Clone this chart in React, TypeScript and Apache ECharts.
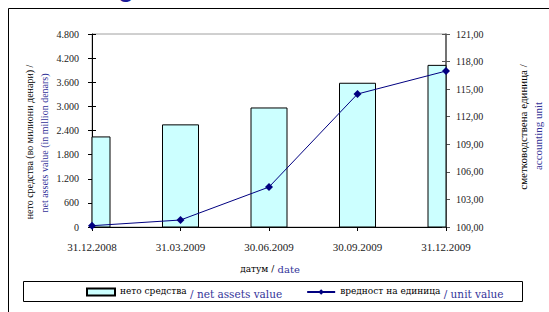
import React, { useEffect, useRef } from "react";
import * as echarts from "echarts";

const categories = ["31.12.2008", "31.03.2009", "30.06.2009", "30.09.2009", "31.12.2009"];
const netAssets = [2240, 2540, 2960, 3575, 4020];
const unitValue = [100.14, 100.76, 104.35, 114.47, 116.97];

const leftMin = 0;
const leftMax = 4800;
const leftInterval = 600;
const rightMin = 100;
const rightMax = 121;
const rightInterval = 3;

const seriesNames = ["нето средства", "вредност на единица"];
const seriesNamesEn = ["/ net assets value", "/ unit value"];
const leftNameMk = "нето средства (во милиони денари) /";
const leftNameEn = "net assets value (in million denars)";
const rightNameMk = "сметководствена единица /";
const rightNameEn = "accounting unit";
const xNameMk = "датум /";
const xNameEn = "date";

const SERIF = "'Liberation Serif', serif";
const SERIF2 = "'DejaVu Serif', serif";
const BLUE = "#333399";
const NAVY = "#000080";
const BAR_FILL = "#ccffff";

function fmtLeft(v: number): string {
  if (v >= 1000) {
    return `${Math.floor(v / 1000)}.${String(v % 1000).padStart(3, "0")}`;
  }
  return String(v);
}
function fmtRight(v: number): string {
  return v.toFixed(2).replace(".", ",");
}

export default function App() {
  const ref = useRef<HTMLDivElement>(null);
  useEffect(() => {
    if (!ref.current) return;
    const chart = echarts.init(ref.current, null, { renderer: "svg" });
    const yBase = (min: number, max: number, interval: number) => ({
      type: "value" as const,
      min,
      max,
      interval,
      splitLine: { show: false },
    });
    const barData = netAssets.map((v, i) => [i, v]);
    chart.setOption({
      animation: false,
      backgroundColor: "#ffffff",
      grid: {
        left: 92,
        right: 103,
        top: 34,
        bottom: 85,
        show: true,
        borderColor: "#a0a0a0",
        borderWidth: 1,
        backgroundColor: "transparent",
      },
      legend: {
        left: 86,
        top: 285,
        padding: 0,
        itemWidth: 28,
        itemGap: 24,
        itemHeight: 7,
        data: [
          { name: seriesNames[0], icon: "rect" },
          { name: seriesNames[1] },
        ],
        formatter: (name: string) => {
          const i = seriesNames.indexOf(name);
          return `{a|${name}} {b|${seriesNamesEn[i]}}`;
        },
        textStyle: {
          rich: {
            a: { fontFamily: SERIF2, fontSize: 9, color: "#000", verticalAlign: "top", lineHeight: 12 },
            b: { fontFamily: SERIF2, fontSize: 10.5, color: BLUE, padding: [3, 0, 0, 0], lineHeight: 12 },
          },
        },
      },
      xAxis: {
        type: "category",
        data: categories,
        boundaryGap: false,
        axisLine: { lineStyle: { color: "#000", width: 1 } },
        axisTick: { show: true, length: 4, lineStyle: { color: "#000" } },
        axisLabel: { fontFamily: SERIF, fontSize: 11, color: "#222", margin: 14 },
      },
      yAxis: [
        {
          ...yBase(leftMin, leftMax, leftInterval),
          position: "left",
          axisLine: { show: true, lineStyle: { color: "#000", width: 1 } },
          axisTick: { show: true, length: 4, lineStyle: { color: "#000" } },
          axisLabel: {
            fontFamily: SERIF,
            fontSize: 10,
            color: "#222",
            margin: 13,
            formatter: (v: number) => fmtLeft(v),
          },
        },
        {
          ...yBase(rightMin, rightMax, rightInterval),
          position: "right",
          axisLine: { show: true, lineStyle: { color: "#555", width: 1.5 } },
          axisTick: { show: true, length: 4, lineStyle: { color: "#555" } },
          axisLabel: {
            fontFamily: SERIF,
            fontSize: 10,
            color: "#222",
            margin: 10,
            formatter: (v: number) => fmtRight(v),
          },
        },
        {
          ...yBase(leftMin, leftMax, leftInterval),
          position: "left",
          axisLine: { show: false },
          axisTick: { show: true, inside: true, length: 4, lineStyle: { color: "#000" } },
          axisLabel: { show: false },
        },
        {
          ...yBase(rightMin, rightMax, rightInterval),
          position: "right",
          axisLine: { show: false },
          axisTick: { show: true, inside: true, length: 4, lineStyle: { color: "#555" } },
          axisLabel: { show: false },
        },
      ],
      series: [
        {
          name: seriesNames[0],
          type: "custom",
          yAxisIndex: 0,
          data: barData,
          encode: { x: 0, y: 1 },
          itemStyle: { color: BAR_FILL, borderColor: "#000", borderWidth: 1 },
          renderItem: (params: any, api: any) => {
            const top = api.coord([api.value(0), api.value(1)]);
            const base = api.coord([api.value(0), 0]);
            const w = 36;
            const cs = params.coordSys;
            const rect = echarts.graphic.clipRectByRect(
              { x: top[0] - w / 2, y: top[1], width: w, height: base[1] - top[1] },
              { x: cs.x, y: cs.y, width: cs.width, height: cs.height }
            );
            if (!rect) return null;
            return {
              type: "rect",
              shape: rect,
              style: { fill: BAR_FILL, stroke: "#000", lineWidth: 1 },
            };
          },
          z: 2,
        },
        {
          name: seriesNames[1],
          type: "line",
          yAxisIndex: 1,
          data: unitValue,
          symbol: "diamond",
          symbolSize: 8,
          lineStyle: { color: NAVY, width: 1 },
          itemStyle: { color: NAVY },
          z: 5,
        },
      ],
      graphic: [
        {
          type: "rect",
          shape: { x: 8.5, y: 8.5, width: 700, height: 500 },
          style: { fill: "none", stroke: "#000", lineWidth: 1 },
          silent: true,
          z: -1,
        },
        {
          type: "text",
          x: 118,
          y: -12,
          style: {
            text: "g",
            fontFamily: "'Liberation Sans', sans-serif",
            fontWeight: "bold",
            fontSize: 26,
            fill: "#1a1a99",
            textVerticalAlign: "middle",
          },
        },
        {
          type: "rect",
          shape: { x: 23.5, y: 281.5, width: 499, height: 20 },
          style: { fill: "#fff", stroke: "#000", lineWidth: 1 },
          silent: true,
          z: -1,
        },
        {
          type: "text",
          x: 29,
          y: 142,
          rotation: Math.PI / 2,
          style: {
            text: leftNameMk,
            fontFamily: SERIF,
            fontSize: 10,
            fill: "#000",
            textAlign: "center",
            textVerticalAlign: "middle",
          },
        },
        {
          type: "text",
          x: 44,
          y: 143,
          rotation: Math.PI / 2,
          style: {
            text: leftNameEn,
            fontFamily: SERIF,
            fontSize: 10,
            fill: BLUE,
            textAlign: "center",
            textVerticalAlign: "middle",
          },
        },
        {
          type: "text",
          x: 523,
          y: 127,
          rotation: Math.PI / 2,
          style: {
            text: rightNameMk,
            fontFamily: SERIF,
            fontSize: 11,
            fill: "#000",
            textAlign: "center",
            textVerticalAlign: "middle",
          },
        },
        {
          type: "text",
          x: 538,
          y: 136,
          rotation: Math.PI / 2,
          style: {
            text: rightNameEn,
            fontFamily: SERIF,
            fontSize: 11,
            fill: BLUE,
            textAlign: "center",
            textVerticalAlign: "middle",
          },
        },
        {
          type: "text",
          x: 270,
          y: 269,
          style: {
            text: `{a|${xNameMk}} {b|${xNameEn}}`,
            textAlign: "center",
            textVerticalAlign: "middle",
            rich: {
              a: { fontFamily: SERIF2, fontSize: 9, fill: "#000" },
              b: { fontFamily: SERIF2, fontSize: 10, fill: BLUE },
            },
          },
        },
      ],
    });
    return () => chart.dispose();
  }, []);
  return (
    <div
      ref={ref}
      style={{ position: "fixed", left: 0, top: 0, width: 549, height: 312, background: "#fff" }}
    />
  );
}
